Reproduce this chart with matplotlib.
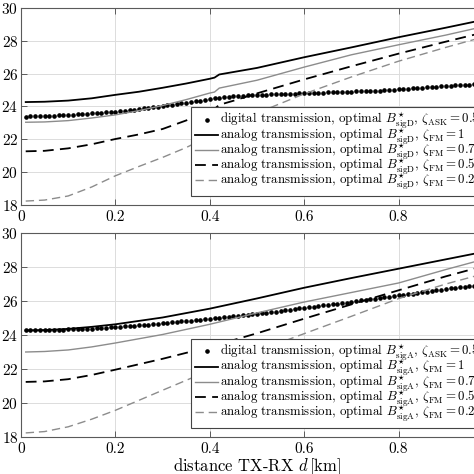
import matplotlib
matplotlib.use("Agg")
import matplotlib.pyplot as plt

plt.rcParams["font.family"] = "cmr10"
plt.rcParams["mathtext.fontset"] = "cm"
plt.rcParams["axes.formatter.use_mathtext"] = True

# distances [km]
d_dots = [round(0.01 * i, 2) for i in range(1, 101)]
d_top = [0.01, 0.05, 0.1, 0.15, 0.2, 0.25, 0.3, 0.35, 0.4, 0.41, 0.42, 0.45, 0.5, 0.6, 0.7, 0.8, 0.9, 1.0]
d_bot = [0.01, 0.05, 0.1, 0.15, 0.2, 0.3, 0.4, 0.5, 0.6, 0.7, 0.8, 0.9, 1.0]

# top panel: optimal B_sigD
top_digital = [
    23.39, 23.40, 23.41, 23.42, 23.43, 23.44, 23.45, 23.46, 23.48, 23.50,
    23.51, 23.53, 23.54, 23.56, 23.58, 23.60, 23.62, 23.64, 23.66, 23.69,
    23.72, 23.75, 23.78, 23.81, 23.84, 23.88, 23.91, 23.95, 23.99, 24.03,
    24.07, 24.11, 24.15, 24.19, 24.23, 24.27, 24.31, 24.35, 24.40, 24.45,
    24.49, 24.53, 24.56, 24.59, 24.62, 24.64, 24.66, 24.68, 24.70, 24.71,
    24.72, 24.73, 24.74, 24.75, 24.76, 24.77, 24.78, 24.79, 24.80, 24.81,
    24.82, 24.83, 24.84, 24.85, 24.86, 24.87, 24.88, 24.89, 24.90, 24.91,
    24.92, 24.93, 24.94, 24.95, 24.96, 24.97, 24.98, 25.00, 25.02, 25.04,
    25.06, 25.08, 25.10, 25.12, 25.14, 25.16, 25.18, 25.20, 25.22, 25.24,
    25.26, 25.28, 25.30, 25.32, 25.34, 25.36, 25.38, 25.40, 25.42, 25.44,
]
top_fm10 = [24.27, 24.29, 24.36, 24.50, 24.71, 24.90, 25.14, 25.40, 25.69, 25.76, 25.95, 26.10, 26.35, 27.00, 27.60, 28.22, 28.80, 29.40]
top_fm07 = [23.04, 23.06, 23.14, 23.30, 23.49, 23.75, 24.06, 24.42, 24.82, 24.88, 25.12, 25.30, 25.60, 26.40, 27.15, 27.76, 28.35, 29.00]
top_fm05 = [21.27, 21.30, 21.45, 21.70, 22.02, 22.30, 22.63, 23.15, 23.75, 23.85, 24.10, 24.35, 24.80, 25.65, 26.45, 27.22, 27.95, 28.65]
top_fm02 = [18.24, 18.30, 18.55, 19.10, 19.78, 20.35, 20.90, 21.50, 22.20, 22.35, 22.60, 23.00, 23.60, 24.77, 25.80, 26.76, 27.60, 28.40]

# bottom panel: optimal B_sigA
bot_digital = [
    24.27, 24.27, 24.28, 24.28, 24.29, 24.29, 24.30, 24.31, 24.32, 24.33,
    24.34, 24.35, 24.36, 24.37, 24.38, 24.40, 24.41, 24.43, 24.45, 24.47,
    24.49, 24.51, 24.53, 24.55, 24.57, 24.59, 24.61, 24.64, 24.67, 24.70,
    24.72, 24.75, 24.77, 24.80, 24.82, 24.85, 24.88, 24.91, 24.93, 24.96,
    24.99, 25.02, 25.05, 25.08, 25.11, 25.13, 25.16, 25.19, 25.22, 25.25,
    25.28, 25.31, 25.35, 25.38, 25.41, 25.45, 25.48, 25.52, 25.56, 25.60,
    25.63, 25.67, 25.70, 25.74, 25.77, 25.81, 25.84, 25.88, 25.91, 25.95,
    25.99, 26.03, 26.07, 26.10, 26.14, 26.18, 26.22, 26.26, 26.29, 26.33,
    26.37, 26.41, 26.44, 26.48, 26.52, 26.55, 26.59, 26.63, 26.66, 26.70,
    26.74, 26.77, 26.81, 26.84, 26.88, 26.91, 26.95, 26.98, 27.02, 27.05,
]
bot_fm10 = [24.27, 24.29, 24.36, 24.48, 24.63, 25.03, 25.55, 26.15, 26.78, 27.35, 27.90, 28.45, 29.00]
bot_fm07 = [23.00, 23.03, 23.12, 23.30, 23.53, 24.03, 24.63, 25.30, 25.94, 26.50, 27.06, 27.85, 28.60]
bot_fm05 = [21.24, 21.27, 21.40, 21.65, 21.96, 22.60, 23.30, 24.10, 24.96, 25.80, 26.63, 27.45, 28.20]
bot_fm02 = [18.24, 18.32, 18.60, 19.05, 19.57, 20.75, 21.92, 23.05, 24.08, 25.10, 26.14, 27.00, 27.75]

zeta_ask = "0.5"
zeta_fm = ["1", "0.75", "0.5", "0.25"]

fig = plt.figure(figsize=(4.74, 4.74), dpi=100)
ax_top = fig.add_axes([21 / 474, 1 - 205 / 474, 472 / 474, 197 / 474])
ax_bot = fig.add_axes([21 / 474, 1 - 437 / 474, 472 / 474, 204 / 474])


def draw(ax, d_line, digital, fm10, fm07, fm05, fm02, sub):
    B = r"$B^{\star}_{\mathrm{%s}}$" % sub
    ax.plot(d_dots, digital, ls="none", marker="o", ms=2.3, color="black",
            label=r"digital transmission, optimal %s, $\zeta_{\mathrm{ASK}} = %s$" % (B, zeta_ask))
    ax.plot(d_line, fm10, color="black", lw=1.3,
            label=r"analog transmission, optimal %s, $\zeta_{\mathrm{FM}} = %s$" % (B, zeta_fm[0]))
    ax.plot(d_line, fm07, color="#8c8c8c", lw=1.0,
            label=r"analog transmission, optimal %s, $\zeta_{\mathrm{FM}} = %s$" % (B, zeta_fm[1]))
    ax.plot(d_line, fm05, color="black", lw=1.3, dashes=(6, 3.5),
            label=r"analog transmission, optimal %s, $\zeta_{\mathrm{FM}} = %s$" % (B, zeta_fm[2]))
    ax.plot(d_line, fm02, color="#8c8c8c", lw=1.0, dashes=(6, 3.5),
            label=r"analog transmission, optimal %s, $\zeta_{\mathrm{FM}} = %s$" % (B, zeta_fm[3]))
    ax.set_xlim(0, 1)
    ax.set_ylim(18, 30)
    ax.set_xticks([0, 0.2, 0.4, 0.6, 0.8, 1.0])
    ax.set_xticklabels(["0", "0.2", "0.4", "0.6", "0.8", "1"])
    ax.set_yticks([18, 20, 22, 24, 26, 28, 30])
    ax.grid(True, color="#dcdcdc", lw=0.7)
    ax.set_axisbelow(True)
    for s in ax.spines.values():
        s.set_color("#5a5a5a")
        s.set_linewidth(0.8)
    ax.tick_params(direction="in", top=True, right=True, length=4, width=0.7,
                   color="#5a5a5a", labelsize=11)
    ax.tick_params(axis="x", pad=4)
    ax.tick_params(axis="y", pad=2)
    leg = ax.legend(loc="lower left", bbox_to_anchor=(170 / 472, 0.045), borderaxespad=0,
                    fontsize=9.3, handlelength=1.8, handletextpad=0.12, labelspacing=-0.38,
                    borderpad=0.3, fancybox=False, framealpha=1, edgecolor="#444444",
                    numpoints=1)
    leg.get_frame().set_linewidth(0.8)


draw(ax_top, d_top, top_digital, top_fm10, top_fm07, top_fm05, top_fm02, "sigD")
draw(ax_bot, d_bot, bot_digital, bot_fm10, bot_fm07, bot_fm05, bot_fm02, "sigA")
ax_bot.set_xlabel(r"distance TX-RX $d\,$[km]", fontsize=12, labelpad=0)

fig.savefig("out.png", dpi=100)
